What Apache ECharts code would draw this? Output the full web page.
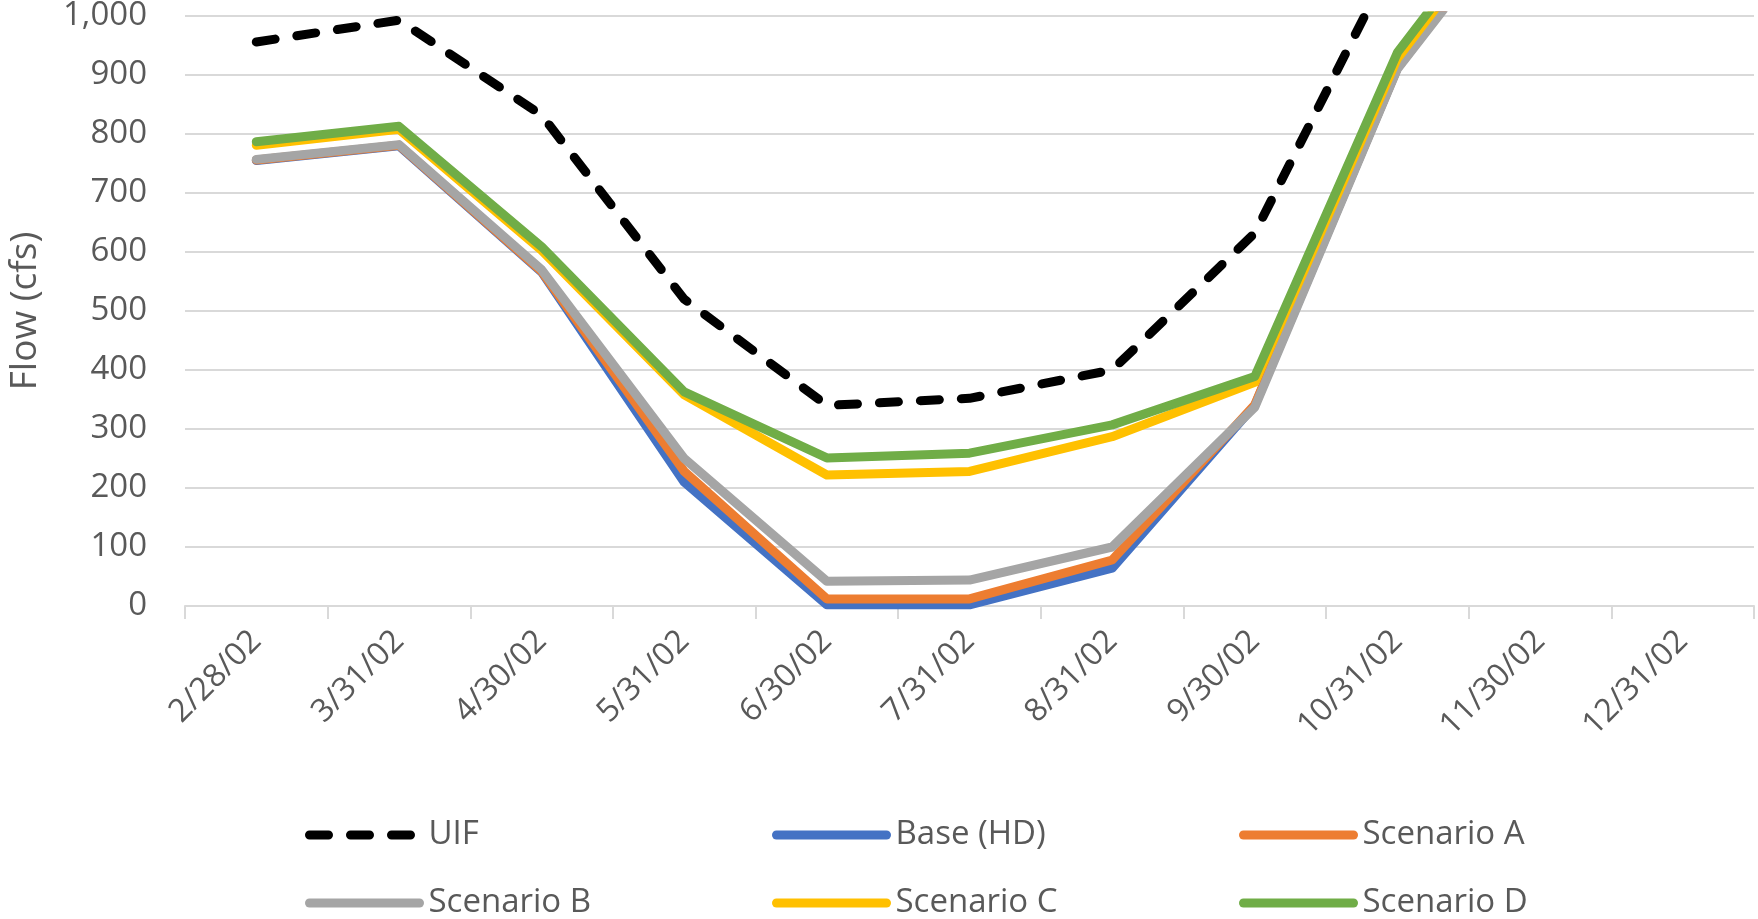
<!DOCTYPE html>
<html>
<head>
<meta charset="utf-8">
<script src="https://cdn.jsdelivr.net/npm/echarts@6/dist/echarts.min.js"></script>
<style>
  html, body { margin: 0; padding: 0; background: #ffffff; }
  #chart { width: 1758px; height: 919px; }
</style>
</head>
<body>
<div id="chart"></div>
<script>
// Month-end dates on the category axis
const months = ['2/28/02', '3/31/02', '4/30/02', '5/31/02', '6/30/02', '7/31/02',
                '8/31/02', '9/30/02', '10/31/02', '11/30/02', '12/31/02'];

// Monthly flow (cfs) per scenario; values above 1,000 run off the top of the plot
const uif       = [956, 993, 832, 520, 340, 352, 400, 632, 1110, 1480, null];
const baseHD    = [755, 780, 566, 210, 2, 2, 64, 340, 912, 1225, null];
const scenarioA = [756, 781, 567, 228, 12, 12, 78, 341, 912, 1225, null];
const scenarioB = [757, 782, 570, 250, 42, 44, 100, 337, 910, 1222, null];
const scenarioC = [781, 808, 603, 358, 222, 228, 287, 379, 928, 1245, null];
const scenarioD = [787, 813, 609, 363, 251, 259, 307, 389, 938, 1255, null];

// Y-axis range
const yMin = 0, yMax = 1000, yStep = 100;

const FONT = '"Open Sans", "Noto Sans", sans-serif';
const TEXT = '#595959';
const GRID = '#d9d9d9';
const LW = 9;

function lineSeries(name, data, color, dashed) {
  return {
    name: name,
    type: 'line',
    data: data,
    symbol: 'none',
    clip: true,
    animation: false,
    lineStyle: dashed
      ? { color: color, width: LW, type: [19, 22], cap: 'round', join: 'round' }
      : { color: color, width: LW, cap: 'round', join: 'round' },
    itemStyle: { color: color }
  };
}

// One legend entry per component so the six entries sit in a 3 x 2 layout
function legendItem(name, left, top) {
  return {
    orient: 'horizontal',
    left: left,
    top: top,
    padding: 0,
    data: [name],
    itemWidth: 110,
    itemHeight: 14,
    itemStyle: { opacity: 0 },
    lineStyle: { width: LW, cap: 'round', type: 'inherit' },
    textStyle: {
      fontFamily: FONT, fontSize: 33, color: TEXT,
      lineHeight: 36, padding: [0, 0, 0, 4]
    },
    selectedMode: false
  };
}

const col1 = 305, col2 = 772, col3 = 1239;
const row1 = 817, row2 = 885;

const chart = echarts.init(document.getElementById('chart'), null, { renderer: 'canvas' });
chart.setOption({
  backgroundColor: '#ffffff',
  animation: false,
  grid: { left: 185, right: 4, top: 16, bottom: 313, containLabel: false, outerBoundsMode: 'none' },
  xAxis: {
    type: 'category',
    data: months,
    boundaryGap: true,
    axisLine: { show: true, lineStyle: { color: GRID, width: 2 } },
    axisTick: { show: true, alignWithLabel: false, length: 13, lineStyle: { color: GRID, width: 2 } },
    axisLabel: {
      interval: 0, rotate: 45, margin: 30,
      fontFamily: FONT, fontSize: 32, color: TEXT
    },
    splitLine: { show: false }
  },
  yAxis: {
    type: 'value',
    min: yMin, max: yMax, interval: yStep,
    name: 'Flow (cfs)',
    nameLocation: 'middle',
    nameGap: 141,
    nameRotate: 90,
    nameTextStyle: { fontFamily: FONT, fontSize: 37, color: TEXT },
    axisLine: { show: false },
    axisTick: { show: false },
    axisLabel: {
      margin: 38, fontFamily: FONT, fontSize: 33, color: TEXT,
      formatter: v => v.toLocaleString('en-US')
    },
    splitLine: { show: true, lineStyle: { color: GRID, width: 2 } }
  },
  legend: [
    legendItem('UIF', col1, row1),
    legendItem('Base (HD)', col2, row1),
    legendItem('Scenario A', col3, row1),
    legendItem('Scenario B', col1, row2),
    legendItem('Scenario C', col2, row2),
    legendItem('Scenario D', col3, row2)
  ],
  series: [
    lineSeries('UIF', uif, '#000000', true),
    lineSeries('Base (HD)', baseHD, '#4472C4', false),
    lineSeries('Scenario A', scenarioA, '#ED7D31', false),
    lineSeries('Scenario B', scenarioB, '#A5A5A5', false),
    lineSeries('Scenario C', scenarioC, '#FFC000', false),
    lineSeries('Scenario D', scenarioD, '#70AD47', false)
  ]
});
</script>
</body>
</html>
